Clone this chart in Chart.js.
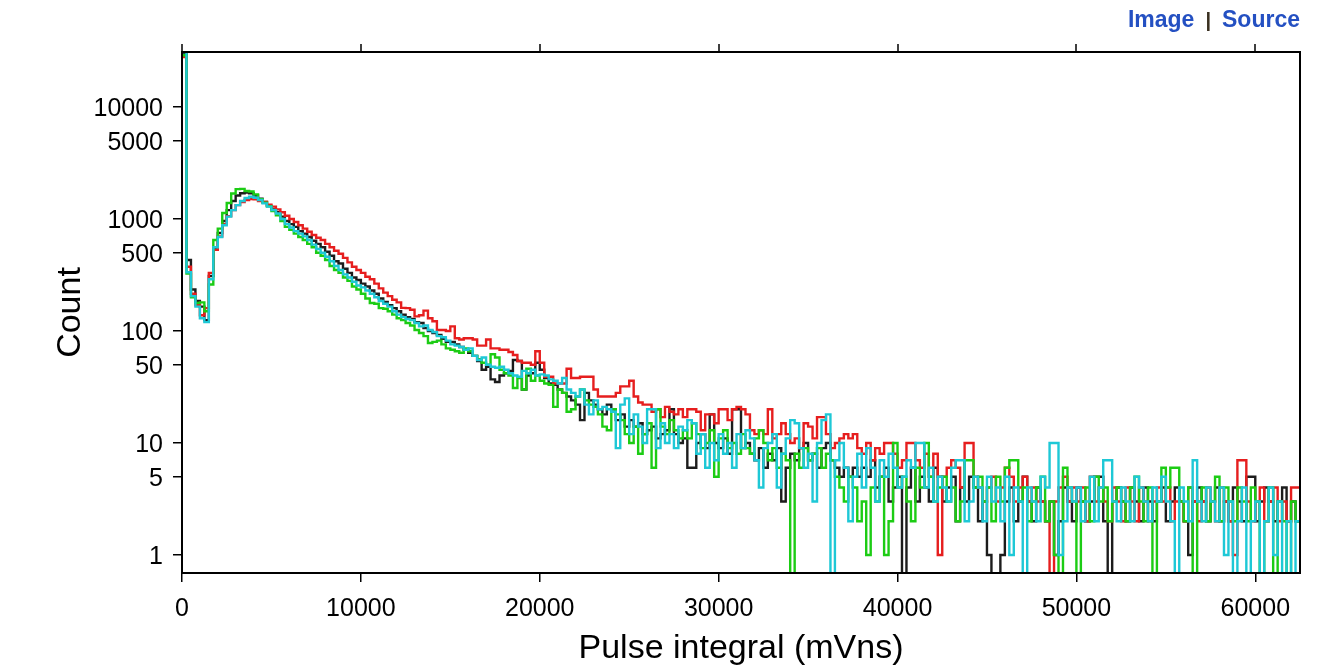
<!DOCTYPE html>
<html>
<head>
<meta charset="utf-8">
<title>Pulse integral histogram</title>
<script src="https://cdn.jsdelivr.net/npm/chart.js@4.4.1/dist/chart.umd.min.js"></script>
<style>
  html, body { margin: 0; padding: 0; background: #fff; }
  #wrap { position: relative; width: 1336px; height: 667px; }
  #links {
    position: absolute; top: 8px; right: 36px;
    font: bold 23px "Liberation Sans", Arial, Helvetica, sans-serif;
    line-height: 23px; color: #2450c2;
  }
  #links .sep { color: #3a3020; font-weight: bold; font-size: 20px; margin: 0 11px; }
</style>
</head>
<body>
<div id="wrap">
  <canvas id="pulseChart"></canvas>
  <div id="links">Image<span class="sep">|</span>Source</div>
</div>
<script>
// Histogram binning (mVns)
const binWidth = 250;
const xRange = [0, 62500];
const yRange = [0.69, 31000];

// Tick labels
const xTicks = [0, 10000, 20000, 30000, 40000, 50000, 60000];
const yTicks = [1, 5, 10, 50, 100, 500, 1000, 5000, 10000];

// Counts per 250 mVns bin
const blackCounts = [
  30000, 430, 235, 185, 165, 125, 310, 540, 750, 960,
  1200, 1450, 1620, 1700, 1720, 1700, 1620, 1520, 1420, 1310,
  1220, 1150, 1050, 960, 900, 850, 780, 740, 690, 640,
  600, 560, 510, 470, 420, 400, 360, 330, 300, 285,
  265, 250, 230, 215, 195, 182, 170, 160, 150, 140,
  133, 128, 120, 118, 106, 100, 96, 92, 85, 80,
  80, 76, 72, 68, 64, 60, 54, 45, 48, 37,
  35, 40, 42, 44, 55, 54, 30, 40, 42, 52,
  45, 38, 34, 33, 30, 28, 26, 24, 22, 16,
  28, 24, 22, 20, 18, 22, 20, 16, 18, 14,
  16, 14, 15, 12, 13, 14, 11, 12, 13, 20,
  12, 10, 11, 6, 6, 10, 12, 9, 18, 10,
  9, 11, 8, 20, 20, 9, 10, 8, 7, 9,
  6, 8, 7, 9, 3, 6, 8, 7, 9, 10,
  7, 8, 6, 9, 10, 7, 6, 5, 6, 5,
  6, 5, 6, 5, 7, 4, 5, 6, 3, 4,
  5, 0, 4, 6, 3, 5, 4, 3, 6, 5,
  3, 4, 5, 2, 4, 3, 5, 4, 2, 3,
  1, 0, 0, 1, 3, 4, 2, 3, 5, 3,
  2, 4, 3, 2, 3, 1, 2, 4, 3, 2,
  4, 3, 2, 3, 5, 5, 2, 0, 3, 4,
  3, 2, 4, 3, 2, 4, 3, 2, 3, 4,
  2, 3, 4, 3, 2, 1, 3, 4, 3, 2,
  3, 4, 2, 3, 2, 4, 3, 2, 5, 5,
  2, 3, 4, 3, 2, 3, 4, 2, 3, 2
];

const redCounts = [
  28000, 375, 215, 170, 138, 160, 330, 530, 700, 900,
  1060, 1200, 1330, 1420, 1480, 1510, 1500, 1450, 1420, 1340,
  1290, 1220, 1150, 1070, 1000, 940, 880, 820, 770, 720,
  680, 650, 600, 560, 520, 490, 450, 410, 375, 350,
  330, 305, 290, 265, 240, 220, 205, 190, 180, 161,
  160, 155, 135, 138, 152, 130, 122, 102, 102, 100,
  110, 86, 84, 86, 86, 84, 74, 74, 84, 70,
  70, 68, 68, 65, 61, 54, 52, 52, 50, 66,
  52, 39, 39, 34, 34, 34, 46, 38, 38, 39,
  39, 39, 30, 26, 26, 26, 26, 28, 32, 32,
  36, 26, 23, 22, 22, 19, 20, 17, 21, 19,
  18, 20, 17, 20, 20, 19, 13, 18, 18, 15,
  20, 20, 16, 20, 21, 20, 18, 13, 12, 13,
  12, 20, 11, 12, 15, 12, 10, 11, 9, 15,
  14, 11, 17, 17, 12, 9, 10, 11, 12, 11,
  12, 9, 8, 10, 7, 9, 8, 10, 10, 8,
  6, 7, 10, 10, 7, 6, 8, 5, 8, 1,
  5, 6, 7, 6, 4, 10, 10, 5, 4, 3,
  4, 5, 3, 4, 6, 5, 3, 4, 5, 3,
  4, 3, 3, 2, 0, 3, 4, 5, 3, 4,
  3, 4, 2, 5, 3, 4, 3, 2, 4, 3,
  2, 4, 3, 2, 4, 3, 2, 3, 4, 3,
  4, 2, 3, 3, 2, 4, 3, 2, 3, 4,
  3, 2, 4, 3, 2, 1, 7, 7, 3, 2,
  3, 4, 2, 3, 4, 2, 3, 2, 4, 4
];

const greenCounts = [
  29000, 325, 200, 178, 180, 150, 260, 650, 820, 1130,
  1390, 1690, 1850, 1860, 1780, 1760, 1660, 1500, 1400, 1300,
  1180, 1080, 960, 850, 800, 740, 690, 650, 600, 560,
  500, 470, 430, 380, 350, 330, 300, 280, 250, 235,
  215, 195, 178, 175, 160, 158, 150, 140, 130, 125,
  118, 112, 102, 96, 90, 78, 80, 82, 76, 70,
  68, 66, 64, 70, 66, 60, 56, 52, 50, 62,
  58, 45, 42, 40, 31, 38, 30, 46, 36, 40,
  36, 34, 33, 21, 30, 28, 19, 20, 26, 30,
  24, 22, 21, 18, 14, 13, 20, 18, 16, 12,
  10, 14, 8, 12, 15, 6, 20, 14, 12, 16,
  13, 11, 13, 11, 15, 12, 9, 10, 13, 5,
  11, 13, 9, 10, 8, 12, 9, 8, 11, 13,
  10, 7, 9, 6, 8, 7, 0, 8, 6, 9,
  7, 8, 9, 6, 8, 7, 5, 4, 3, 5,
  4, 2, 3, 1, 4, 3, 5, 1, 2, 10,
  4, 5, 3, 2, 6, 4, 10, 5, 3, 4,
  5, 3, 4, 2, 3, 7, 7, 4, 5, 3,
  4, 2, 5, 3, 6, 7, 7, 3, 4, 2,
  3, 4, 5, 2, 3, 1, 0, 6, 4, 3,
  0, 3, 4, 2, 5, 3, 4, 2, 3, 4,
  3, 2, 4, 5, 3, 2, 4, 0, 3, 6,
  4, 6, 6, 3, 2, 4, 0, 3, 4, 2,
  3, 5, 2, 4, 3, 2, 4, 3, 2, 4,
  3, 0, 2, 4, 0, 3, 2, 0, 3, 2
];

const cyanCounts = [
  31000, 335, 205, 165, 130, 120, 290, 560, 690, 880,
  1050, 1200, 1330, 1450, 1540, 1580, 1550, 1480, 1380, 1290,
  1200, 1120, 1000, 900, 840, 780, 740, 700, 650, 590,
  540, 500, 460, 420, 380, 350, 320, 300, 275, 255,
  245, 230, 215, 200, 185, 175, 165, 150, 140, 133,
  128, 125, 118, 110, 112, 102, 98, 90, 88, 82,
  76, 74, 72, 68, 70, 60, 55, 58, 50, 48,
  47, 48, 45, 42, 40, 39, 44, 42, 45, 40,
  41, 40, 37, 36, 34, 38, 30, 28, 26, 30,
  22, 18, 24, 20, 21, 20, 19, 9, 22, 25,
  12, 18, 14, 10, 20, 20, 9, 15, 10, 12,
  9, 14, 13, 16, 15, 8, 12, 6, 10, 7,
  12, 8, 10, 6, 12, 9, 13, 11, 7, 4,
  9, 10, 12, 4, 8, 11, 16, 15, 9, 6,
  8, 3, 10, 16, 18, 0, 7, 10, 6, 2,
  5, 8, 4, 9, 6, 3, 7, 5, 8, 6,
  4, 5, 7, 6, 10, 10, 4, 6, 3, 5,
  4, 3, 6, 7, 7, 2, 3, 5, 4, 2,
  5, 3, 4, 2, 5, 1, 4, 3, 0, 4,
  3, 2, 5, 4, 10, 10, 1, 2, 4, 3,
  4, 2, 3, 5, 2, 4, 7, 7, 3, 2,
  4, 3, 2, 5, 4, 3, 2, 4, 3, 5,
  3, 2, 0, 4, 3, 2, 7, 3, 2, 4,
  3, 2, 4, 1, 3, 0, 2, 4, 0, 2,
  3, 0, 2, 4, 1, 3, 0, 2, 0, 2
];

const fontFamily = '"Liberation Sans", Arial, Helvetica, sans-serif';

/**
 * Turn bin counts into step points (left bin edges + closing right edge).
 * Empty bins are pushed below the axis so the line drops onto it.
 */
function toSteps(counts) {
  const pts = counts.map((c, i) => ({ x: i * binWidth, y: c > 0 ? c : 0.4 }));
  pts.push({ x: counts.length * binWidth, y: pts[pts.length - 1].y });
  return pts;
}

function histDataset(label, counts, color, order) {
  return {
    label: label,
    data: toSteps(counts),
    borderColor: color,
    borderWidth: 2.4,
    pointRadius: 0,
    stepped: true,
    fill: false,
    order: order
  };
}

// Box around the plot and the small ticks on the top edge
const framePlugin = {
  id: 'frame',
  afterDatasetsDraw(chart) {
    const { ctx, chartArea: a } = chart;
    const xScale = chart.scales.x;
    ctx.save();
    ctx.strokeStyle = '#000';
    ctx.lineWidth = 2;
    ctx.strokeRect(a.left, a.top, a.right - a.left, a.bottom - a.top);
    ctx.lineWidth = 1.5;
    ctx.beginPath();
    xTicks.forEach(v => {
      const px = Math.round(xScale.getPixelForValue(v));
      ctx.moveTo(px, a.top);
      ctx.lineTo(px, a.top - 8);
    });
    ctx.stroke();
    ctx.restore();
  }
};

const canvas = document.getElementById('pulseChart');
canvas.width = 1336;
canvas.height = 667;

new Chart(canvas.getContext('2d'), {
  type: 'line',
  data: {
    datasets: [
      histDataset('black', blackCounts, '#1c1c1c', 3),
      histDataset('red', redCounts, '#e61e1e', 2),
      histDataset('green', greenCounts, '#1ccc14', 1),
      histDataset('cyan', cyanCounts, '#1ec8d6', 0)
    ]
  },
  options: {
    responsive: false,
    animation: false,
    devicePixelRatio: 1,
    layout: { padding: { top: 52, right: 36, left: 0, bottom: 0 } },
    plugins: {
      legend: { display: false },
      tooltip: { enabled: false }
    },
    scales: {
      x: {
        type: 'linear',
        position: 'bottom',
        min: xRange[0],
        max: xRange[1],
        afterBuildTicks: s => { s.ticks = xTicks.map(v => ({ value: v })); },
        afterFit: s => { s.height = 94; },
        border: { display: false },
        grid: { drawOnChartArea: false, drawTicks: true, tickLength: 9, color: '#000', lineWidth: 1.5 },
        ticks: {
          color: '#000',
          font: { family: fontFamily, size: 25 },
          padding: 12,
          maxRotation: 0,
          callback: v => String(v)
        },
        title: {
          display: true,
          text: 'Pulse integral (mVns)',
          color: '#000',
          font: { family: fontFamily, size: 34, lineHeight: 1.1 },
          padding: { top: 0, bottom: 0 }
        }
      },
      y: {
        type: 'logarithmic',
        position: 'left',
        min: yRange[0],
        max: yRange[1],
        afterBuildTicks: s => { s.ticks = yTicks.map(v => ({ value: v })); },
        afterFit: s => { s.width = 182; },
        border: { display: false },
        grid: { drawOnChartArea: false, drawTicks: true, tickLength: 9, color: '#000', lineWidth: 1.5 },
        ticks: {
          color: '#000',
          font: { family: fontFamily, size: 25 },
          padding: 10,
          labelOffset: 2,
          callback: v => String(v)
        },
        title: {
          display: true,
          text: 'Count',
          color: '#000',
          font: { family: fontFamily, size: 34 },
          padding: { top: 50, bottom: 0 }
        }
      }
    }
  },
  plugins: [framePlugin]
});
</script>
</body>
</html>
